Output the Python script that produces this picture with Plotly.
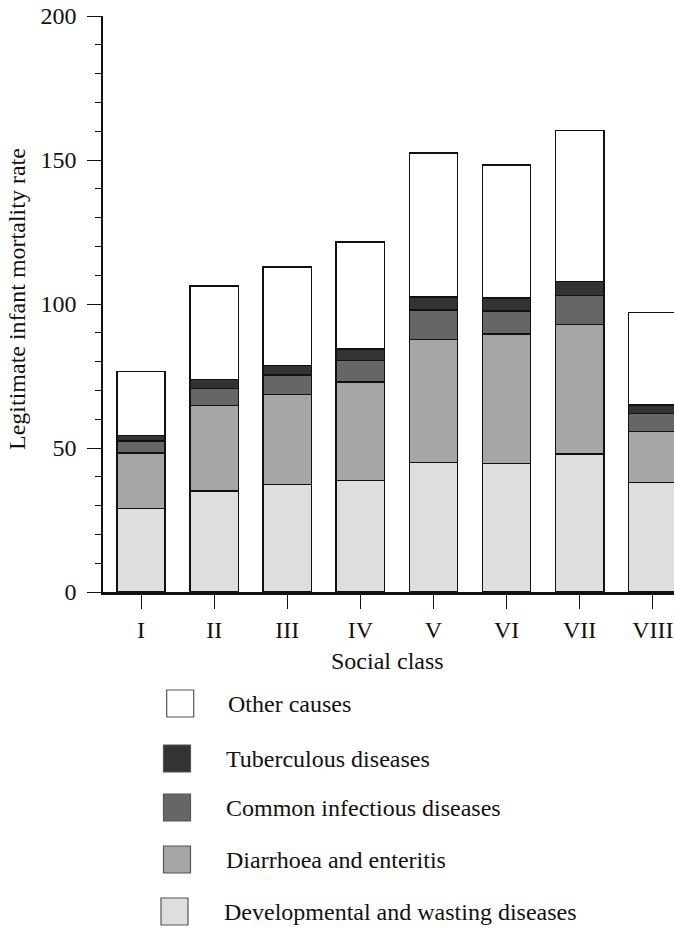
import plotly.graph_objects as go

classes = ["I", "II", "III", "IV", "V", "VI", "VII", "VIII"]
developmental = [29.0, 35.0, 37.4, 38.8, 44.9, 44.7, 47.9, 38.0]
diarrhoea = [19.2, 29.7, 31.2, 34.2, 42.8, 44.9, 45.0, 17.7]
common_infectious = [4.2, 6.0, 6.7, 7.4, 10.2, 8.0, 10.1, 6.2]
tuberculous = [2.0, 3.1, 3.4, 3.9, 4.6, 4.5, 4.8, 3.0]
other = [22.2, 32.5, 34.1, 37.3, 50.0, 46.2, 52.4, 32.1]

series = [
    ("Developmental and wasting diseases", developmental, "#dedede"),
    ("Diarrhoea and enteritis", diarrhoea, "#a6a6a6"),
    ("Common infectious diseases", common_infectious, "#666666"),
    ("Tuberculous diseases", tuberculous, "#333333"),
    ("Other causes", other, "#ffffff"),
]

FONT = "Liberation Serif"
FS = 24
W, H = 674, 928
L, R, T, B = 103, 0, 16, 336
PW, PH = W - L - R, H - T - B


def px(x):
    return (x - L) / PW


def py(y):
    return (H - B - y) / PH


fig = go.Figure()
for name, vals, col in series:
    fig.add_trace(go.Bar(
        x=classes, y=vals, name=name, width=0.66,
        marker=dict(color=col, line=dict(color="#111111", width=1.5)),
        showlegend=False,
    ))

fig.update_layout(
    barmode="stack",
    width=W, height=H,
    margin=dict(l=L, r=R, t=T, b=B),
    paper_bgcolor="white", plot_bgcolor="white",
    font=dict(family=FONT, size=FS, color="#111111"),
    xaxis=dict(
        range=[-0.52, 7.29], showgrid=False, zeroline=False,
        showline=True, linecolor="#111111", linewidth=2.5,
        ticks="outside", ticklen=14, tickwidth=1, tickcolor="#111111",
        tickfont=dict(family=FONT, size=FS),
    ),
    yaxis=dict(
        range=[0, 200], showgrid=False, zeroline=False,
        showline=True, linecolor="#111111", linewidth=1.5,
        tickvals=[0, 50, 100, 150, 200],
        ticks="outside", ticklen=14, tickwidth=1, tickcolor="#111111",
        minor=dict(dtick=10, ticks="outside", ticklen=6, tickcolor="#111111", tickwidth=1),
        tickfont=dict(family=FONT, size=FS),
        ticklabelstandoff=6,
    ),
)

fig.add_annotation(
    text="Legitimate infant mortality rate", textangle=-90,
    xref="paper", yref="paper", x=px(17), y=py(299),
    xanchor="center", yanchor="middle", showarrow=False,
    font=dict(family=FONT, size=FS),
)
fig.add_annotation(
    text="Social class",
    xref="paper", yref="paper", x=px(387), y=py(661),
    xanchor="center", yanchor="middle", showarrow=False,
    font=dict(family=FONT, size=FS),
)

# manual legend (top to bottom)
legend_rows = [
    ("Other causes", "#ffffff", 166.7, 690, 226),
    ("Tuberculous diseases", "#333333", 163.5, 745, 224),
    ("Common infectious diseases", "#666666", 163.5, 794, 224),
    ("Diarrhoea and enteritis", "#a6a6a6", 163.5, 846, 224),
    ("Developmental and wasting diseases", "#dedede", 161, 898, 222),
]
for label, col, sx, sy, tx in legend_rows:
    fig.add_shape(
        type="rect", xref="paper", yref="paper",
        x0=px(sx), x1=px(sx + 27), y0=py(sy), y1=py(sy + 27),
        fillcolor=col, line=dict(color="#555555", width=1.2),
    )
    fig.add_annotation(
        text=label, xref="paper", yref="paper",
        x=px(tx), y=py(sy + 13.5), xanchor="left", yanchor="middle",
        showarrow=False, font=dict(family=FONT, size=FS),
    )

fig.write_html(
    "out.html",
    config={"displayModeBar": False},
    post_script="document.body.style.margin='0';document.body.style.overflow='hidden';",
)
